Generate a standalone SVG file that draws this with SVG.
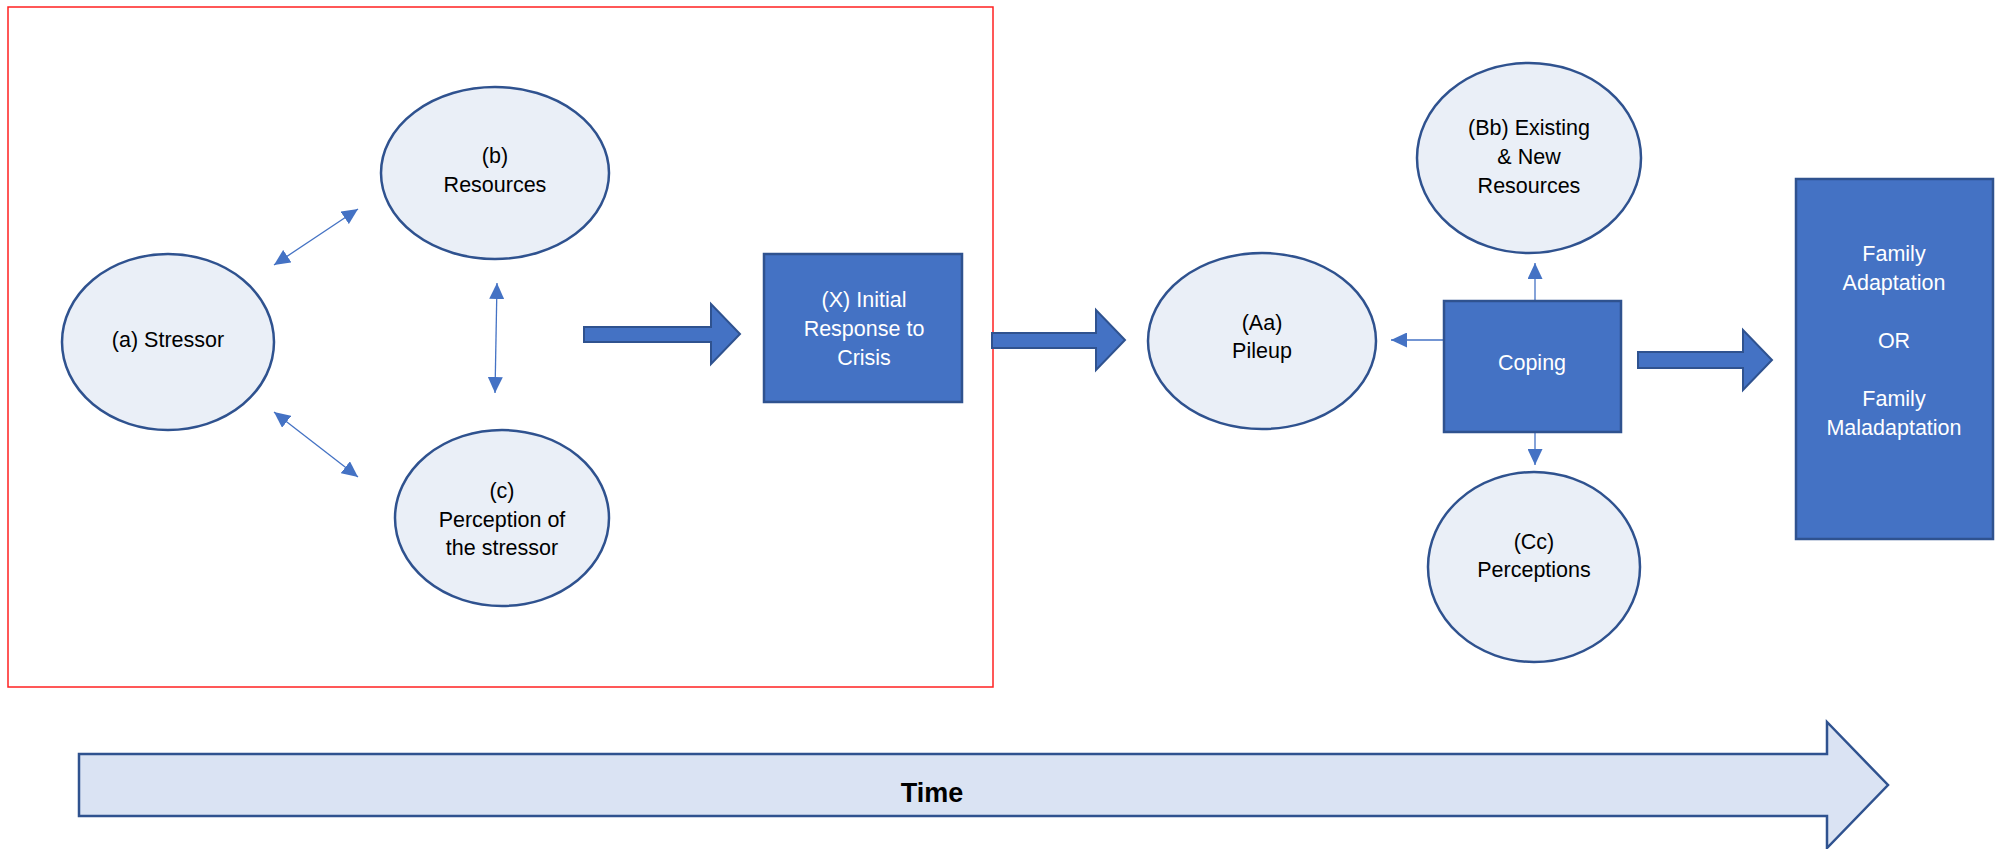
<svg xmlns="http://www.w3.org/2000/svg" width="1996" height="849" viewBox="0 0 1996 849">
<style>
.ell{fill:#EAEFF7;stroke:#2F528F;stroke-width:2.5}
.box{fill:#4472C4;stroke:#2F528F;stroke-width:2.5}
.blk{fill:#4472C4;stroke:#2F528F;stroke-width:2}
.ln{stroke:#4472C4;stroke-width:1.3;fill:none}
.t{font-family:"Liberation Sans",Arial,sans-serif;font-size:21.5px;fill:#000;text-anchor:middle}
.w{fill:#FFFFFF}
.time{font-family:"Liberation Sans",Arial,sans-serif;font-size:27px;font-weight:bold;fill:#000;text-anchor:middle}
</style>
<defs>
<marker id="ah" markerUnits="userSpaceOnUse" markerWidth="16" markerHeight="15" refX="16" refY="7.5" orient="auto-start-reverse" viewBox="0 0 16 15">
<path d="M0,0 L16,7.5 L0,15 z" fill="#4472C4"/>
</marker>
</defs>
<rect x="0" y="0" width="1996" height="849" fill="#FFFFFF"/>
<rect id="frame" x="8" y="7" width="985" height="680" fill="none" stroke="#FF2020" stroke-width="1.5"/>

<g id="time">
<polygon points="79,754 1827,754 1827,722 1888,785 1827,848 1827,816 79,816" fill="#DAE3F3" stroke="#2F528F" stroke-width="2.5"/>
<text class="time" x="932" y="802">Time</text>
</g>

<g id="connectors">
<line class="ln" x1="274" y1="265" x2="358" y2="209" marker-start="url(#ah)" marker-end="url(#ah)"/>
<line class="ln" x1="274" y1="412" x2="358" y2="477" marker-start="url(#ah)" marker-end="url(#ah)"/>
<line class="ln" x1="497" y1="283" x2="495" y2="393" marker-start="url(#ah)" marker-end="url(#ah)"/>
<polygon class="blk" points="584,327 711,327 711,304 740,334 711,364 711,342 584,342"/>
<polygon class="blk" points="992,333 1096,333 1096,310 1125,340 1096,370 1096,348 992,348"/>
<polygon class="blk" points="1638,352 1743,352 1743,330 1772,360 1743,390 1743,368 1638,368"/>
<line class="ln" x1="1444" y1="340" x2="1391" y2="340" marker-end="url(#ah)"/>
<line class="ln" x1="1535" y1="301" x2="1535" y2="263" marker-end="url(#ah)"/>
<line class="ln" x1="1535" y1="432" x2="1535" y2="465" marker-end="url(#ah)"/>
</g>

<g id="stressor">
<ellipse class="ell" cx="168" cy="342" rx="106" ry="88"/>
<text class="t" x="168" y="347">(a) Stressor</text>
</g>
<g id="resources">
<ellipse class="ell" cx="495" cy="173" rx="114" ry="86"/>
<text class="t" x="495" y="163">(b)</text>
<text class="t" x="495" y="192">Resources</text>
</g>
<g id="perception">
<ellipse class="ell" cx="502" cy="518" rx="107" ry="88"/>
<text class="t" x="502" y="498">(c)</text>
<text class="t" x="502" y="527">Perception of</text>
<text class="t" x="502" y="555">the stressor</text>
</g>
<g id="initial-response">
<rect class="box" x="764" y="254" width="198" height="148"/>
<text class="t w" x="864" y="307">(X) Initial</text>
<text class="t w" x="864" y="336">Response to</text>
<text class="t w" x="864" y="365">Crisis</text>
</g>
<g id="pileup">
<ellipse class="ell" cx="1262" cy="341" rx="114" ry="88"/>
<text class="t" x="1262" y="330">(Aa)</text>
<text class="t" x="1262" y="358">Pileup</text>
</g>
<g id="existing-resources">
<ellipse class="ell" cx="1529" cy="158" rx="112" ry="95"/>
<text class="t" x="1529" y="135">(Bb) Existing</text>
<text class="t" x="1529" y="164">&amp; New</text>
<text class="t" x="1529" y="193">Resources</text>
</g>
<g id="coping">
<rect class="box" x="1444" y="301" width="177" height="131"/>
<text class="t w" x="1532" y="370">Coping</text>
</g>
<g id="perceptions">
<ellipse class="ell" cx="1534" cy="567" rx="106" ry="95"/>
<text class="t" x="1534" y="549">(Cc)</text>
<text class="t" x="1534" y="577">Perceptions</text>
</g>
<g id="outcome">
<rect class="box" x="1796" y="179" width="197" height="360"/>
<text class="t w" x="1894" y="261">Family</text>
<text class="t w" x="1894" y="290">Adaptation</text>
<text class="t w" x="1894" y="348">OR</text>
<text class="t w" x="1894" y="406">Family</text>
<text class="t w" x="1894" y="435">Maladaptation</text>
</g>
</svg>
